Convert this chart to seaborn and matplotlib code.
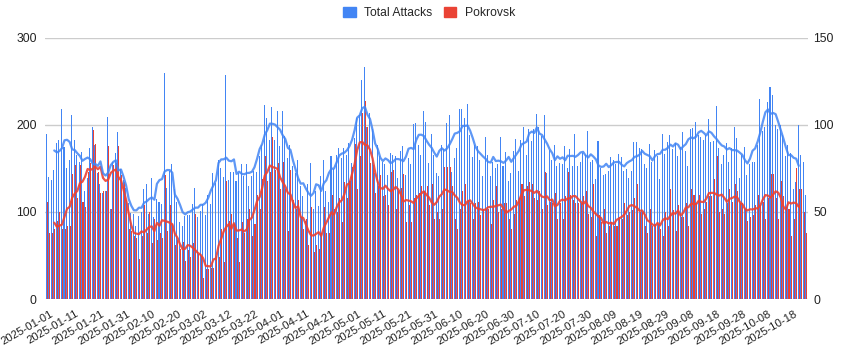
import matplotlib
matplotlib.use("Agg")
import matplotlib.pyplot as plt
from matplotlib.patches import Patch
import matplotlib.transforms as mtransforms
import numpy as np
import pandas as pd
import seaborn as sns

# ---- data (daily, 2025-01-01 .. 2025-10-24) ----
total_attacks = [
    190,140,137,148,179,183,218,175,150,160,212,183,166,158,169,124,139,173,198,177,145,132,122,124,209,103,158,168,192,149,137,128,110,99,98,84,95,
    100,127,132,98,139,94,115,112,109,260,128,147,155,127,111,88,84,95,97,97,109,128,94,101,109,97,120,109,145,133,160,150,140,258,137,146,146,
    136,145,155,141,155,130,141,147,146,164,177,223,208,183,221,183,216,176,216,187,162,177,153,145,160,130,118,90,132,156,103,124,107,141,160,124,111,
    164,149,166,174,162,174,166,179,156,185,208,212,252,267,198,214,195,145,177,164,158,155,143,168,166,164,139,170,176,143,162,155,201,202,177,166,216,
    204,156,190,165,145,141,177,172,202,211,146,162,174,218,218,208,224,188,163,177,176,160,141,186,166,141,158,151,155,186,153,169,136,145,170,184,147,
    183,198,166,195,182,195,213,198,187,211,145,171,160,177,153,156,155,176,151,172,153,190,153,157,168,165,193,158,160,138,182,150,142,144,147,163,160,
    155,167,163,147,149,139,147,181,181,174,172,155,151,178,158,171,164,138,190,167,181,189,172,179,164,175,192,170,153,195,197,203,189,186,183,188,207,
    181,182,222,174,155,166,179,158,173,198,185,139,166,175,142,155,157,157,177,230,193,198,226,244,234,200,195,200,188,164,177,168,127,134,200,166,157,119,
]
pokrovsk = [
    56,38,38,40,45,50,40,40,42,42,72,77,58,77,56,53,73,78,97,89,73,61,62,62,88,52,77,78,88,71,67,57,40,39,36,35,23,
    36,54,38,50,32,46,34,38,35,71,39,54,43,31,34,29,33,22,28,24,32,49,26,25,12,17,17,18,18,25,24,40,21,68,45,49,43,
    35,21,44,38,46,52,36,43,60,52,69,82,68,73,93,74,78,63,79,63,39,74,57,52,57,47,40,46,31,53,27,31,29,38,53,38,38,
    60,52,50,58,44,67,58,68,76,89,63,82,107,114,99,78,77,61,65,71,59,60,54,73,74,52,62,64,72,44,54,44,58,60,61,65,62,
    65,54,66,46,50,46,52,76,76,76,65,46,40,52,62,66,57,55,46,55,56,48,52,52,52,43,57,65,50,52,55,55,46,40,49,57,58,
    66,59,65,67,66,58,57,62,52,73,54,56,55,61,46,55,46,59,73,60,57,55,55,55,59,62,49,47,66,36,48,44,52,38,42,44,42,
    42,47,46,55,48,50,51,58,66,50,50,42,38,52,42,43,43,40,36,50,42,63,51,39,54,47,47,55,42,63,60,55,60,49,52,56,59,
    59,69,82,50,52,49,55,63,56,66,62,55,55,52,45,47,48,54,60,54,56,46,58,72,72,58,46,68,59,53,52,36,46,75,63,63,50,38,
]
start_date = "2025-01-01"
tick_labels = ["2025-01-01","2025-01-11","2025-01-21","2025-01-31","2025-02-10","2025-02-20",
               "2025-03-02","2025-03-12","2025-03-22","2025-04-01","2025-04-11","2025-04-21",
               "2025-05-01","2025-05-11","2025-05-21","2025-05-31","2025-06-10","2025-06-20",
               "2025-06-30","2025-07-10","2025-07-20","2025-07-30","2025-08-09","2025-08-19",
               "2025-08-29","2025-09-08","2025-09-18","2025-09-28","2025-10-08","2025-10-18"]
left_ticks = [0, 100, 200, 300]
right_ticks = [0, 50, 100, 150]

BLUE = "#4285F4"
RED = "#EA4335"
FS = 8.7

dates = pd.date_range(start_date, periods=len(total_attacks))
df = pd.DataFrame({"date": dates, "total": total_attacks, "pok": pokrovsk})
df["day"] = (df["date"] - df["date"].iloc[0]).dt.days
df["total_ma"] = df["total"].rolling(7, center=True).mean()
df["pok_ma"] = df["pok"].rolling(7, center=True).mean()
df["x_blue"] = df["day"] - 0.2
df["x_red"] = df["day"] + 0.2

sns.set_style("white")
plt.rcParams["font.family"] = ["Liberation Sans", "DejaVu Sans"]

fig = plt.figure(figsize=(8.45, 3.55), dpi=100)
ax = fig.add_axes([45 / 845, 56 / 355, 763 / 845, 261 / 355])
ax2 = ax.twinx()
ax3 = ax.twinx()

sns.barplot(data=df, x="x_blue", y="total", ax=ax, native_scale=True, width=0.4,
            color=BLUE, saturation=1, errorbar=None, linewidth=0)
sns.barplot(data=df, x="x_red", y="pok", ax=ax2, native_scale=True, width=0.4,
            color=RED, saturation=1, errorbar=None, linewidth=0)
sns.lineplot(data=df, x="day", y="pok_ma", ax=ax2, color=RED, linewidth=1.6, alpha=0.9)
sns.lineplot(data=df, x="day", y="total_ma", ax=ax3, color=BLUE, linewidth=1.6, alpha=0.85)

xmin, xmax = -0.6, len(df) - 0.4
for a in (ax, ax2, ax3):
    for s in a.spines.values():
        s.set_visible(False)
    a.set_xlabel("")
    a.set_ylabel("")

ax.set_ylim(0, 300)
ax3.set_ylim(0, 300)
ax2.set_ylim(0, 150)

ax.set_yticks(left_ticks)
ax.set_yticklabels([str(v) for v in left_ticks])
ax2.set_yticks(right_ticks)
ax2.set_yticklabels([str(v) for v in right_ticks])
ax3.set_yticks([])
ax.yaxis.grid(True, color="#cccccc", linewidth=1)
ax.set_axisbelow(True)

ax.tick_params(axis="y", length=0, pad=6, labelsize=FS, colors="#222222")
ax2.tick_params(axis="y", length=0, pad=4, labelsize=FS, colors="#222222")

tick_pos = [int((pd.Timestamp(t) - pd.Timestamp(start_date)).days) for t in tick_labels]
ax.set_xticks(tick_pos)
ax.set_xticklabels(tick_labels, rotation=30, ha="right", va="top", rotation_mode="anchor")
ax.tick_params(axis="x", length=0, pad=7, labelsize=8.2, colors="#222222", labelbottom=True)
ax.set_xlim(xmin, xmax)
shift = mtransforms.ScaledTranslation(3 / 100, 0, fig.dpi_scale_trans)
for lbl in ax.get_xticklabels():
    lbl.set_transform(lbl.get_transform() + shift)

handles = [Patch(facecolor=BLUE, edgecolor=BLUE), Patch(facecolor=RED, edgecolor=RED)]
fig.legend(handles, ["Total Attacks", "Pokrovsk"], loc="upper center",
           bbox_to_anchor=(0.508, 1.012), ncol=2, frameon=False, fontsize=FS,
           handlelength=1.0, handleheight=1.0, handletextpad=0.7, columnspacing=1.0)

fig.savefig("out.png", dpi=100)
